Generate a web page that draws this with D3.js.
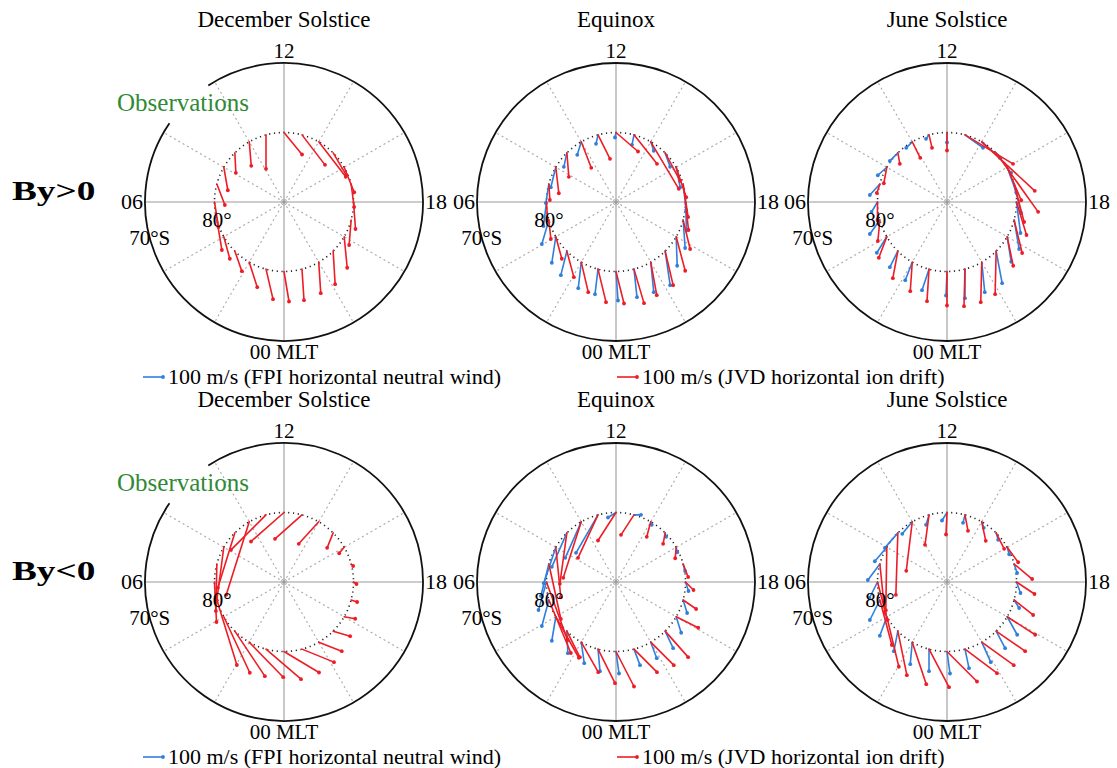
<!DOCTYPE html>
<html><head><meta charset="utf-8">
<script src="https://cdn.jsdelivr.net/npm/d3@7"></script>
<style>
html,body{margin:0;padding:0;background:#fff;}
svg{display:block;}
text{font-family:"Liberation Serif","Times New Roman",serif;}
</style></head><body>
<svg id="chart" width="1117" height="768"></svg>
<script>
// ---- data ----
const mltHours = [0,1,2,3,4,5,6,7,8,9,10,11,12,13,14,15,16,17,18,19,20,21,22,23];
const seasonTitles = ["December Solstice", "Equinox", "June Solstice"];
const imfLabels = ["By>0", "By<0"];
const solidGridHours = [0, 6, 12, 18];
const dottedGridHours = [2, 4, 8, 10, 14, 16, 20, 22];
const stationLat = 80;          // vectors are anchored on the 80°S circle
const latRange = [90, 70];      // pole to outer rim
const legendSpeed = 100;        // m/s

// Vectors as [duskward, sunward] components in m/s, one per MLT hour.
const ionDecByPos = [[25,-150],[35,-150],[40,-125],[35,-100],[30,-110],[25,-150],[20,-125],[40,-105],[20,-115],[5,-100],[10,-120],[0,-170],[90,-110],[115,-150],[135,-175],[65,-110],[50,-125],[15,-115],[10,-135],[-10,-125],[15,-155],[10,-165],[10,-155],[10,-155]];
const ionEquByPos = [[40,-160],[40,-165],[35,-150],[35,-130],[30,-110],[10,-95],[5,-90],[5,-80],[15,-130],[10,-120],[50,-130],[60,-120],[110,-95],[115,-145],[140,-235],[75,-140],[50,-150],[25,-165],[15,-140],[35,-145],[45,-170],[40,-170],[30,-165],[50,-170]];
const windEquByPos = [[10,-145],[-15,-125],[-15,-130],[-30,-120],[-20,-130],[-35,-120],[-15,-120],[-15,-95],[-25,-100],[-15,-70],[-20,-65],[-10,-45],[-5,-25],[-10,-50],[15,-45],[25,-70],[20,-100],[15,-130],[5,-140],[10,-140],[5,-145],[25,-170],[15,-150],[15,-140]];
const ionJunByPos = [[0,-170],[-10,-160],[-10,-145],[-25,-135],[-40,-105],[-10,-105],[0,-90],[-15,-45],[-15,-80],[10,-55],[40,-80],[15,-65],[0,-90],[240,-145],[265,-245],[210,-295],[70,-165],[50,-190],[50,-165],[40,-165],[30,-145],[-5,-215],[-5,-200],[-5,-185]];
const windJunByPos = [[-5,-120],[-35,-105],[-35,-90],[-40,-80],[-50,-80],[-50,-70],[-30,-50],[-50,-55],[-45,-40],[-40,-40],[-30,-30],[-15,-20],[0,-50],[90,-65],[90,-80],[75,-100],[45,-125],[35,-145],[20,-155],[25,-145],[20,-125],[30,-160],[15,-150],[0,-145]];
const ionDecByNeg = [[175,-105],[175,-150],[170,-175],[150,-225],[130,-280],[100,-325],[10,-200],[-5,-235],[-35,-265],[-85,-275],[-115,-365],[-175,-175],[-165,-145],[-135,-120],[-100,-110],[-30,-75],[-25,-30],[10,-10],[15,-10],[30,-10],[55,-10],[85,-25],[115,-45],[160,-65]];
const ionEquByNeg = [[90,-175],[85,-170],[85,-150],[65,-130],[115,-205],[110,-265],[105,-290],[60,-275],[25,-250],[-35,-255],[-90,-280],[-100,-215],[-90,-140],[-65,-100],[-20,-75],[-10,-55],[-5,-55],[25,-65],[40,-40],[65,-45],[110,-55],[115,-130],[115,-115],[115,-115]];
const windEquByNeg = [[15,-110],[10,-110],[15,-105],[5,-110],[-20,-120],[-35,-130],[-40,-140],[-40,-160],[-60,-180],[-75,-170],[-80,-180],[-110,-190],[-40,-25],[35,0],[5,-15],[5,-20],[5,-25],[10,-35],[15,-45],[20,-65],[25,-80],[40,-85],[30,-80],[30,-80]];
const ionJunByNeg = [[150,-150],[100,-190],[70,-210],[45,-220],[60,-250],[60,-225],[50,-190],[25,-245],[-5,-315],[-10,-310],[-30,-245],[-20,-150],[-5,-110],[15,-80],[20,-95],[40,-80],[55,-75],[90,-75],[90,-60],[95,-75],[140,-90],[145,-100],[160,-115],[160,-120]];
const windJunByNeg = [[15,-110],[0,-110],[-10,-110],[-20,-100],[-35,-95],[-50,-100],[-40,-80],[-60,-80],[-60,-70],[-65,-75],[-50,-60],[-15,-50],[-25,-40],[-10,-40],[10,-30],[10,-35],[10,-35],[15,-45],[20,-55],[25,-40],[50,-90],[45,-85],[45,-100],[20,-95]];

// ---- layout ----
const colX = [284, 616, 947];
const rowY = [202, 582];
const R = 139;
const ionColor = "#ee1d25";
const windColor = "#2f7fdc";

const panels = [
  {row:0, col:0, ion:ionDecByPos, wind:null, obs:true},
  {row:0, col:1, ion:ionEquByPos, wind:windEquByPos, obs:false},
  {row:0, col:2, ion:ionJunByPos, wind:windJunByPos, obs:false},
  {row:1, col:0, ion:ionDecByNeg, wind:null, obs:true},
  {row:1, col:1, ion:ionEquByNeg, wind:windEquByNeg, obs:false},
  {row:1, col:2, ion:ionJunByNeg, wind:windJunByNeg, obs:false}
];

const hourAngle = d3.scaleLinear().domain([0, 24]).range([0, 2 * Math.PI]);
const radial = d3.scaleLinear().domain(latRange).range([0, R]);
const speed = d3.scaleLinear().domain([0, 100]).range([0, 20]);

// MLT 00 at the bottom, 06 left, 12 top, 18 right
function polar(h, lat) {
  const a = hourAngle(h), r = radial(lat);
  return [-r * Math.sin(a), r * Math.cos(a)];
}

const svg = d3.select("#chart");

function drawVectors(g, vecs, color) {
  const pts = vecs.map((v, i) => {
    const t = polar(mltHours[i], stationLat);
    return {x0: t[0], y0: t[1], x1: t[0] + speed(v[0]), y1: t[1] - speed(v[1])};
  });
  const grp = g.append("g");
  grp.selectAll("line").data(pts).join("line")
    .attr("x1", d => d.x0).attr("y1", d => d.y0)
    .attr("x2", d => d.x1).attr("y2", d => d.y1)
    .attr("stroke", color).attr("stroke-width", 1.6).attr("stroke-linecap", "round");
  grp.selectAll("circle").data(pts).join("circle")
    .attr("cx", d => d.x1).attr("cy", d => d.y1).attr("r", 1.9)
    .attr("fill", color);
}

panels.forEach(p => {
  const cx = colX[p.col], cy = rowY[p.row];
  const g = svg.append("g").attr("transform", `translate(${cx},${cy})`);

  // title
  g.append("text").attr("x", 0).attr("y", -R - 36).attr("text-anchor", "middle")
    .attr("font-size", 23).text(seasonTitles[p.col]);

  // dotted radial grid
  dottedGridHours.forEach(h => {
    const e = polar(h, latRange[1]);
    g.append("line").attr("x1", 0).attr("y1", 0).attr("x2", e[0]).attr("y2", e[1])
      .attr("stroke", "#a8a8a8").attr("stroke-width", 1.1).attr("stroke-dasharray", "2,3");
  });
  // solid cross-hair
  solidGridHours.forEach(h => {
    const e = polar(h, latRange[1]);
    g.append("line").attr("x1", 0).attr("y1", 0).attr("x2", e[0]).attr("y2", e[1])
      .attr("stroke", "#9a9a9a").attr("stroke-width", 1.1);
  });
  // pole marker
  g.append("circle").attr("r", 3).attr("fill", "none").attr("stroke", "#b0b0b0").attr("stroke-width", 0.8);

  // 80° latitude circle
  g.append("circle").attr("r", radial(stationLat)).attr("fill", "none")
    .attr("stroke", "#222").attr("stroke-width", 1.6).attr("stroke-dasharray", "1.2,3.6");

  // outer rim (opened where the Observations tag sits)
  if (p.obs) {
    const arc = d3.arc().innerRadius(R).outerRadius(R)
      .startAngle(hourAngle(9.8 - 12)).endAngle(hourAngle(8.3 + 24 - 12));
    g.append("path").attr("d", arc()).attr("fill", "none").attr("stroke", "#111").attr("stroke-width", 1.8);
    g.append("text").attr("x", -167).attr("y", -91).attr("font-size", 25)
      .attr("fill", "#2f8a35").text("Observations");
  } else {
    g.append("circle").attr("r", R).attr("fill", "none").attr("stroke", "#111").attr("stroke-width", 1.8);
  }

  // vectors
  if (p.wind) drawVectors(g, p.wind, windColor);
  drawVectors(g, p.ion, ionColor);

  // hour labels
  const fs = 22;
  g.append("text").attr("x", 0).attr("y", -R - 5).attr("text-anchor", "middle").attr("font-size", 21).text("12");
  g.append("text").attr("x", -R - 2).attr("y", 7).attr("text-anchor", "end").attr("font-size", fs).text("06");
  g.append("text").attr("x", R + 2).attr("y", 7).attr("text-anchor", "start").attr("font-size", fs).text("18");
  g.append("text").attr("x", 0).attr("y", R + 18).attr("text-anchor", "middle").attr("font-size", 21).text("00 MLT");

  // latitude labels along MLT 05
  const l80 = polar(5, 80), l70 = polar(5, 70);
  g.append("text").attr("x", l80[0]).attr("y", l80[1]).attr("text-anchor", "middle")
    .attr("dominant-baseline", "central").attr("font-size", 21).text("80°");
  g.append("text").attr("x", l70[0]).attr("y", l70[1]).attr("text-anchor", "middle")
    .attr("dominant-baseline", "central").attr("font-size", 21).text("70°S");
});

// row labels
imfLabels.forEach((t, i) => {
  svg.append("text").attr("transform", `translate(12,${rowY[i] - 2}) scale(1.38,1)`)
    .attr("font-size", 27).attr("font-weight", "bold").text(t);
});

// legends
rowY.forEach(cy => {
  const y = cy + R + 43;
  const items = [
    {x: 143, color: windColor, text: `${legendSpeed} m/s (FPI horizontal neutral wind)`},
    {x: 617, color: ionColor, text: `${legendSpeed} m/s (JVD horizontal ion drift)`}
  ];
  items.forEach(it => {
    const g = svg.append("g");
    g.append("line").attr("x1", it.x).attr("y1", y - 7).attr("x2", it.x + speed(legendSpeed)).attr("y2", y - 7)
      .attr("stroke", it.color).attr("stroke-width", 1.6);
    g.append("circle").attr("cx", it.x + speed(legendSpeed)).attr("cy", y - 7).attr("r", 1.9).attr("fill", it.color);
    g.append("text").attr("x", it.x + speed(legendSpeed) + 5).attr("y", y).attr("font-size", 22).text(it.text);
  });
});
</script>
</body></html>
